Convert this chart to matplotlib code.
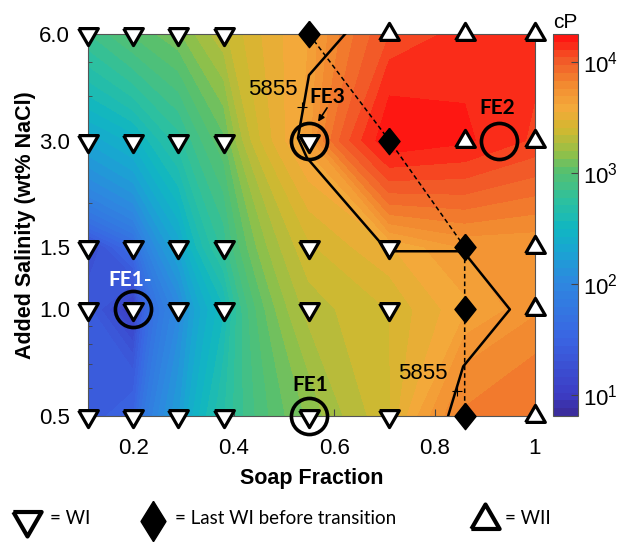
import numpy as np
import matplotlib
matplotlib.use('Agg')
import matplotlib.pyplot as plt
from matplotlib.colors import LinearSegmentedColormap, LogNorm
from matplotlib.ticker import NullFormatter, NullLocator

plt.rcParams['font.family'] = ['Liberation Sans', 'DejaVu Sans']

# grid of measurements
soap = [0.11, 0.2, 0.29, 0.38, 0.55, 0.71, 0.86, 1.0]
salinity = [0.5, 1.0, 1.5, 3.0, 6.0]
# viscosity in cP, one row per salinity
visc_05 = [25, 32, 160, 500, 1400, 2500, 7000, 8000]
visc_10 = [25, 8, 100, 355, 2000, 2600, 4000, 5600]
visc_15 = [13, 40, 200, 630, 2500, 3500, 5000, 5000]
visc_30 = [200, 280, 550, 1100, 4500, 17500, 15800, 12600]
visc_60 = [700, 1000, 1300, 2100, 4200, 11000, 14000, 14000]

# phase behaviour: 0 = WI, 1 = last WI before transition, 2 = WII
phase_05 = [0, 0, 0, 0, 0, 0, 1, 2]
phase_10 = [0, 0, 0, 0, 0, 0, 1, 2]
phase_15 = [0, 0, 0, 0, 0, 0, 1, 2]
phase_30 = [0, 0, 0, 0, 0, 1, 2, 2]
phase_60 = [0, 0, 0, 0, 1, 2, 2, 2]

# 5855 cP contour
c_soap = [0.622, 0.550, 0.528, 0.546, 0.707, 0.857, 0.950, 0.857, 0.827]
c_sal = [6.0, 4.59, 3.05, 2.68, 1.46, 1.46, 1.0, 0.69, 0.5]
c_lab_soap = [0.477, 0.777]
c_lab_sal = [4.17, 0.66]
c_mark_soap = [0.536, 0.845]
c_mark_sal = [3.73, 0.59]

# formulations
fe_names = ['FE1-', 'FE1', 'FE3', 'FE2']
fe_soap = [0.2, 0.55, 0.55, 0.928]
fe_sal = [1.0, 0.5, 3.0, 3.0]
fe_lab_soap = [0.194, 0.552, 0.586, 0.924]
fe_lab_sal = [1.21, 0.612, 3.97, 3.71]
fe_colors = ['white', 'black', 'black', 'black']

visc = np.array([visc_05, visc_10, visc_15, visc_30, visc_60], dtype=float)
phase = np.array([phase_05, phase_10, phase_15, phase_30, phase_60])
X, Y = np.meshgrid(soap, salinity)

cmap = LinearSegmentedColormap.from_list('visc', [
    (0.00, '#3b2a98'), (0.055, '#3c3cc4'), (0.20, '#3a64e2'),
    (0.35, '#2e88e0'), (0.43, '#1aa4d2'), (0.49, '#10b6c2'),
    (0.56, '#2cc0a0'), (0.64, '#55c070'), (0.69, '#92c048'),
    (0.75, '#d2b830'), (0.81, '#f4a83a'), (0.87, '#f28a30'),
    (0.93, '#f25a28'), (1.00, '#ff0f0f')])
vmin, vmax = 6.5, 18000
levels = np.logspace(np.log10(vmin), np.log10(vmax), 50)

fig = plt.figure(figsize=(6.25, 5.42), dpi=100)
ax = fig.add_axes([0.1408, 0.2325, 0.7152, 0.7048])
cax = fig.add_axes([0.885, 0.2325, 0.04, 0.7048])

cf = ax.contourf(X, Y, visc, levels=levels, cmap=cmap,
                 norm=LogNorm(vmin=vmin, vmax=vmax))

ax.plot(c_soap, c_sal, color='black', lw=1.8, zorder=3)
ax.plot(c_mark_soap, c_mark_sal, '+', color='black', ms=7, mew=0.8, zorder=3)
for xs, ys in zip(c_lab_soap, c_lab_sal):
    ax.text(xs, ys, '5855', fontsize=16, ha='center', va='center', zorder=4)

# dashed line through last-WI points
last_x = [X[i, j] for i in range(len(salinity)) for j in range(len(soap)) if phase[i, j] == 1]
last_y = [Y[i, j] for i in range(len(salinity)) for j in range(len(soap)) if phase[i, j] == 1]
ax.plot(last_x, last_y, '--', color='black', lw=1.1, dashes=(3, 2), zorder=3)

tri_down = [(-1, 0.6), (1, 0.6), (0, -1.13), (-1, 0.6)]
tri_up = [(-1, -0.6), (1, -0.6), (0, 1.13), (-1, -0.6)]
diamond = [(0, 1), (0.8, 0), (0, -1), (-0.8, 0), (0, 1)]

m0 = phase == 0
m1 = phase == 1
m2 = phase == 2
ax.plot(X[m0], Y[m0], ls='none', marker=tri_down, ms=16, mfc='white',
        mec='black', mew=2.3, clip_on=False, zorder=5)
ax.plot(X[m1], Y[m1], ls='none', marker=diamond, ms=19, mfc='black',
        mec='black', mew=1, clip_on=False, zorder=5)
ax.plot(X[m2], Y[m2], ls='none', marker=tri_up, ms=16, mfc='white',
        mec='black', mew=2.3, clip_on=False, zorder=5)

ax.plot(fe_soap, fe_sal, ls='none', marker='o', ms=26, mfc='none',
        mec='black', mew=2.6, clip_on=False, zorder=6)
for name, xs, ys, c in zip(fe_names, fe_lab_soap, fe_lab_sal, fe_colors):
    ax.text(xs, ys, name, fontsize=15, fontweight='bold', color=c,
            family=['Lato', 'DejaVu Sans'], ha='center', va='center', zorder=7)
ax.annotate('', xy=(0.568, 3.39), xytext=(0.586, 3.71),
            arrowprops=dict(arrowstyle='-|>', color='black', lw=1.2,
                            mutation_scale=9, shrinkA=0, shrinkB=0), zorder=7)

ax.set_yscale('log')
ax.set_xlim(0.11, 1.0)
ax.set_ylim(0.5, 6.0)
ax.set_xticks([0.2, 0.4, 0.6, 0.8, 1.0])
ax.set_xticklabels(['0.2', '0.4', '0.6', '0.8', '1'])
ax.set_yticks(salinity)
ax.set_yticklabels(['0.5', '1.0', '1.5', '3.0', '6.0'])
ax.yaxis.set_minor_formatter(NullFormatter())
ax.tick_params(which='both', direction='in', labelsize=16, color='#444444')
ax.tick_params(which='major', length=5)
ax.tick_params(which='minor', length=3)
ax.tick_params(axis='x', pad=16)
ax.tick_params(axis='y', pad=13)
for s in ax.spines.values():
    s.set_color('#555555')
    s.set_linewidth(0.8)
ax.set_xlabel('Soap Fraction', fontsize=15.5, fontweight='bold', labelpad=6)
ax.set_ylabel('Added Salinity (wt% NaCl)', fontsize=15.5, fontweight='bold', labelpad=2)

cb = fig.colorbar(cf, cax=cax)
cb.set_ticks([10, 100, 1000, 10000])
cb.ax.yaxis.set_minor_locator(NullLocator())
cb.ax.tick_params(direction='in', labelsize=16, length=5, color='#444444')
cb.outline.set_edgecolor('#555555')
cb.outline.set_linewidth(0.8)
cax.text(0.5, 1.005, 'cP', transform=cax.transAxes, ha='center', va='bottom', fontsize=15)

# legend strip
lg = fig.add_axes([0, 0, 1, 0.1])
lg.set_xlim(0, 625)
lg.set_ylim(0, 54.2)
lg.axis('off')
lg.plot([27], [22], marker=tri_down, ms=23, mfc='white', mec='black', mew=3, ls='none')
lg.plot([153], [21], marker=[(0, 1), (0.62, 0), (0, -1), (-0.62, 0), (0, 1)], ms=29,
        mfc='black', mec='black', ls='none')
lg.plot([485], [22], marker=tri_up, ms=23, mfc='white', mec='black', mew=3, ls='none')
for xs, txt in zip([50, 175, 505], ['= WI', '= Last WI before transition', '= WII']):
    lg.text(xs, 23, txt, fontsize=13.5, family=['Lato', 'DejaVu Sans'], va='center', ha='left')

fig.savefig('out.png', dpi=100)
